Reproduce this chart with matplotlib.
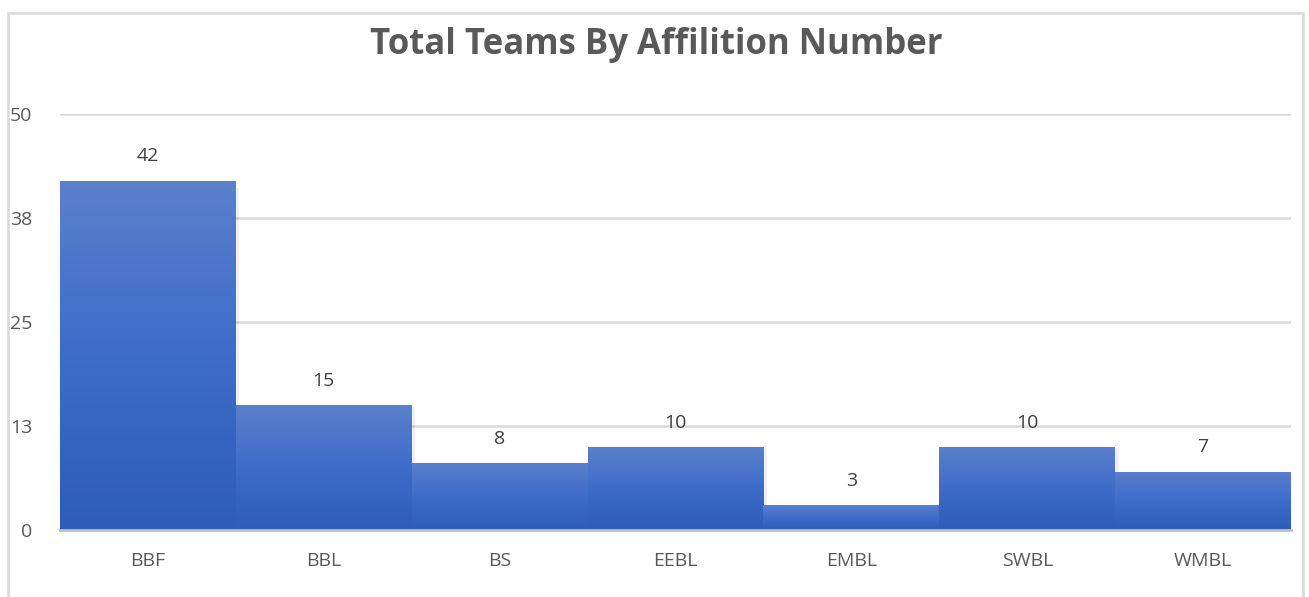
import matplotlib
matplotlib.use("Agg")
import matplotlib.pyplot as plt
import numpy as np
from matplotlib.colors import LinearSegmentedColormap
from matplotlib.patches import Rectangle

categories = ["BBF", "BBL", "BS", "EEBL", "EMBL", "SWBL", "WMBL"]
teams = [42, 15, 8, 10, 3, 10, 7]
ytick_vals = [0, 12.5, 25, 37.5, 50]
ytick_labels = ["0", "13", "25", "38", "50"]

W, H = 1309, 597
fig = plt.figure(figsize=(W / 100, H / 100), dpi=100)
plt.rcParams["font.family"] = ["Open Sans", "DejaVu Sans"]

# chart frame
fig.patches.append(Rectangle((8 / W, -0.05), (1303 - 8) / W, 1 - 13 / H + 0.05,
                             transform=fig.transFigure, fill=False,
                             edgecolor="#d9d9d9", linewidth=1.8))

ax = fig.add_axes([60 / W, 67 / H, (1291 - 60) / W, (530 - 114) / H])
x = np.arange(len(categories))
ax.set_xlim(-0.5, len(categories) - 0.5)
ax.set_ylim(0, 50)

cmap = LinearSegmentedColormap.from_list("bar", ["#2e5cb8", "#3d6cc9", "#5b80cc"])
grad = np.linspace(0, 1, 256).reshape(-1, 1)

bars = ax.bar(x, teams, width=1.0, color="#3d6cc9", zorder=2)
for b in bars:
    b.set_facecolor("none")
    b.set_edgecolor("none")
    x0, y0 = b.get_x(), b.get_y()
    im = ax.imshow(grad, cmap=cmap, origin="lower", aspect="auto",
                   extent=[x0, x0 + b.get_width(), y0, y0 + b.get_height()],
                   zorder=2)
    im.set_clip_path(b)
    # soft shadow on the right side
    ax.add_patch(Rectangle((x0 + b.get_width(), 0), 0.02, b.get_height() * 0.98,
                           color="#000000", alpha=0.06, zorder=1.5, lw=0))

for xi, v in zip(x, teams):
    ax.annotate(str(v), (xi, v), xytext=(0, 11), textcoords="offset points",
                ha="center", va="bottom", fontsize=14, color="#404040")

ax.set_yticks(ytick_vals)
ax.set_yticklabels(ytick_labels)
ax.set_xticks(x)
ax.set_xticklabels(categories)
ax.tick_params(axis="both", length=0, labelsize=14, labelcolor="#595959")
ax.tick_params(axis="y", pad=20)
ax.tick_params(axis="x", pad=16)
ax.yaxis.grid(True, color="#d9d9d9", linewidth=1.8, zorder=0)
ax.set_axisbelow(True)
for s in ["top", "right", "left"]:
    ax.spines[s].set_visible(False)
ax.spines["bottom"].set_color("#bfbfbf")
ax.spines["bottom"].set_linewidth(2)
ax.spines["bottom"].set_zorder(3)

fig.text(656 / W, 1 - 45 / H, "Total Teams By Affilition Number",
         ha="center", va="center", fontsize=25, fontweight="bold", color="#595959")

fig.savefig("out.png", dpi=100)
